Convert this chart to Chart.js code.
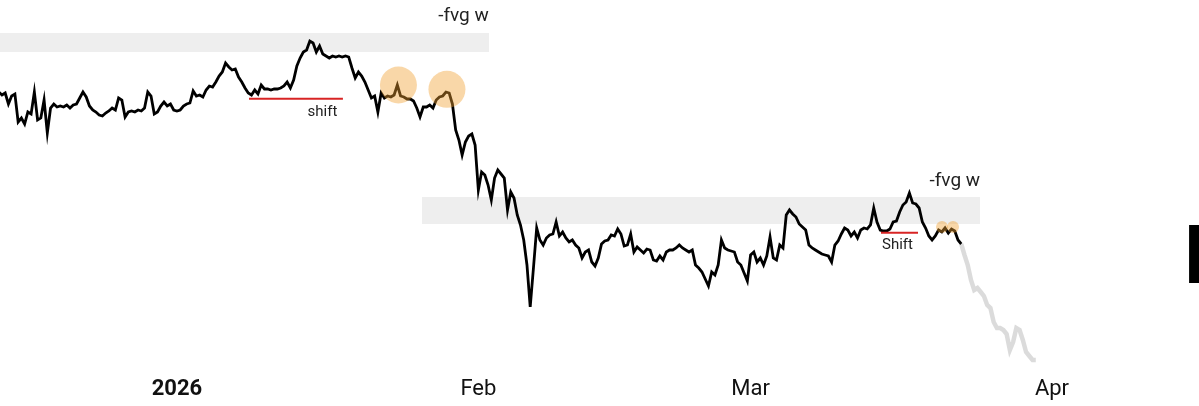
<!DOCTYPE html>
<html lang="en">
<head>
    <meta charset="UTF-8">
    <title>Price chart - fvg / shift</title>
    <script src="https://cdn.jsdelivr.net/npm/chart.js"></script>
    <style>
        body {
            margin: 0;
            background: #fff;
        }
        #wrap {
            width: 1199px;
            height: 406px;
        }
    </style>
</head>
<body>

    <div id="wrap"><canvas id="priceChart" width="1199" height="406"></canvas></div>

    <script>
        // x = days since 1 Jan 2026, one price every 8 hours (k USD)
        const STEP = 1 / 3;

        const tickDays = [0, 31, 59, 90];
        const tickLabels = ['2026', 'Feb', 'Mar', 'Apr'];

        const decStart = -18 - 1 / 3;
        const decPrices = [
            96.2, 95.75, 96.05, 94.4, 95.6, 95.9, 91.7, 92.3, 91.4, 93.2,
            92.9, 96.2, 92, 92.3, 95, 90.05, 93.8, 94.4, 93.95, 94.1,
            93.95, 94.25, 93.8, 94.25, 94.4, 95.3, 96.2, 95.45, 94.1, 93.5,
            93.2, 92.75, 92.6, 93.05, 93.35, 93.8, 93.5, 95.3, 95, 92.45,
            93.2, 93.35, 93.2, 93.5, 93.35, 93.8, 96.2, 95.6, 92.9, 93.2,
            94.1, 94.7, 94.1, 94.4, 93.5
        ];

        const janStart = 0;
        const janPrices = [
            93.35, 93.5, 94.1, 94.4, 94.55, 96.35, 95.6, 95.75, 95.45, 96.5,
            97.1, 96.95, 97.7, 98.6, 99.2, 100.55, 99.95, 99.5, 99.65, 98.45,
            97.7, 96.8, 96.05, 95.75, 96.5, 95.9, 97.25, 96.65, 96.65, 96.5,
            96.65, 96.65, 96.8, 97.1, 97.7, 96.8, 98, 100.1, 101.3, 102.2,
            102.5, 103.85, 103.55, 102.2, 103.1, 101.9, 101.6, 101.3, 101.6, 101.45,
            101.6, 101.45, 101.6, 101.45, 99.8, 98.3, 99.2, 98.6, 97.7, 96.5,
            95.3, 95.6, 93.2, 96.05, 95.3, 95.6, 95.45, 95.75, 97.25, 95.6,
            95.45, 95.15, 95.15, 94.85, 93.8, 92.45, 93.95, 93.95, 94.25, 93.8,
            95, 95.45, 95.6, 96.2, 96.05, 94.4, 90.5, 89, 86.75, 88.7,
            89.6, 89.9, 88.25
        ];

        const febStart = 31;
        const febPrices = [
            81.5, 84.2, 83.75, 82.25, 80, 83.3, 84.5, 83.9, 83.3, 78.5,
            81.2, 80.3, 77.75, 76.25, 74, 70.25, 63.95, 69.8, 75.8, 74,
            73.25, 74.3, 74.75, 74.9, 76.7, 74.6, 75.2, 74.3, 73.7, 74,
            73.25, 72.8, 71.3, 72.2, 72.5, 70.7, 70.1, 71.3, 73.4, 73.85,
            74, 74.75, 74.6, 75.65, 74.9, 73.1, 73.25, 74.9, 72.2, 72.95,
            72.5, 72.05, 72.65, 72.5, 71, 70.85, 71.6, 71, 72.2, 72.5,
            72.5, 72.8, 73.25, 72.8, 72.5, 72.2, 72.5, 70.25, 69.8, 69.2,
            68.15, 67.1, 69.2, 68.75, 70.25, 74, 72.8, 72.5, 72.35, 72.2,
            70.7, 70.25, 69.05, 67.85
        ];

        const marStart = 59;
        const marPrices = [
            71.75, 72.2, 70.7, 71.3, 70.25, 71.6, 74.45, 71.3, 71, 73.25,
            72.8, 77.75, 78.5, 77.9, 77.45, 76.4, 75.95, 75.5, 73.25, 72.8,
            72.5, 72.2, 71.9, 71.75, 71.6, 70.7, 73.25, 73.85, 74.9, 75.8,
            75.5, 74.6, 75.2, 74.3, 75.5, 75.8, 75.65, 76.25, 78.8, 76.7,
            75.5, 75.35, 75.35, 75.65, 76.7, 76.85, 78.2, 79.25, 79.7, 81.05,
            79.55, 79.4, 78.8, 76.7, 75.8, 74.6, 74, 74.6, 75.5, 75.2,
            75.8, 75.05, 75.65, 75.35, 74, 73.4
        ];

        // faded projection after the last bar
        const projStart = 80 + 2 / 3;
        const projPrices = [
            73.4, 71.75, 70.25, 68, 66.5, 66.8, 66.2, 65.6, 64.25, 63.8,
            61.7, 60.8, 60.8, 60.5, 59.9, 57.5, 58.7, 60.8, 60.5, 59,
            57.2, 56.6, 56, 56
        ];

        // grey fvg zones: [fromDay, toDay, low, high]
        const fvgZones = [
            [-18.2, 32.1, 102.2, 105.05],
            [25.2, 82.6, 76.4, 80.45]
        ];
        // red "shift" levels: [fromDay, toDay, price]
        const shiftLevels = [
            [7.41, 17.07, 95.2],
            [72.41, 76.22, 75.1]
        ];
        const bigCircles = [[22.78, 97.25], [27.77, 96.6]];
        const smallCircles = [[78.69, 75.95], [79.82, 75.95]];
        const noteTexts = ['-fvg w', '-fvg w', 'shift', 'Shift'];
        const noteDays = [29.47, 80.0, 14.97, 74.11];
        const notePrices = [107.5, 82.8, 93.2, 73.2];
        const sideBar = [104.1, 105.2, 67.55, 76.25];

        function toPoints(start, prices) {
            return prices.map((p, i) => ({ x: start + i * STEP, y: p }));
        }

        const mainLine = [].concat(
            toPoints(decStart, decPrices),
            toPoints(janStart, janPrices),
            toPoints(febStart, febPrices),
            toPoints(marStart, marPrices)
        );

        const overlay = {
            id: 'overlay',
            beforeDatasetsDraw(chart) {
                const c = chart.ctx, xs = chart.scales.x, ys = chart.scales.y;
                c.save();
                c.fillStyle = '#eeeeee';
                fvgZones.forEach(z => {
                    const x0 = xs.getPixelForValue(z[0]), x1 = xs.getPixelForValue(z[1]);
                    const y0 = ys.getPixelForValue(z[3]), y1 = ys.getPixelForValue(z[2]);
                    c.fillRect(x0, y0, x1 - x0, y1 - y0);
                });
                c.restore();
            },
            afterDatasetsDraw(chart) {
                const c = chart.ctx, xs = chart.scales.x, ys = chart.scales.y;
                c.save();
                c.fillStyle = '#222';
                c.textAlign = 'center';
                c.textBaseline = 'middle';
                noteTexts.forEach((t, i) => {
                    c.font = (t === '-fvg w' ? '19px' : '15px') + ' Roboto';
                    c.fillText(t, xs.getPixelForValue(noteDays[i]), ys.getPixelForValue(notePrices[i]));
                });
                c.fillStyle = '#000';
                const bx0 = xs.getPixelForValue(sideBar[0]), bx1 = xs.getPixelForValue(sideBar[1]);
                const by0 = ys.getPixelForValue(sideBar[3]), by1 = ys.getPixelForValue(sideBar[2]);
                c.fillRect(bx0, by0, bx1 - bx0, by1 - by0);
                c.restore();
            }
        };

        const circleColor = 'rgba(240, 160, 48, 0.42)';

        const ctx = document.getElementById('priceChart').getContext('2d');
        const priceChart = new Chart(ctx, {
            type: 'line',
            data: {
                datasets: [
                    {
                        data: mainLine,
                        borderColor: '#000',
                        borderWidth: 2.8,
                        pointRadius: 0,
                        tension: 0,
                        order: 3
                    },
                    {
                        data: toPoints(projStart, projPrices),
                        borderColor: 'rgba(0, 0, 0, 0.14)',
                        borderWidth: 4.5,
                        pointRadius: 0,
                        tension: 0,
                        order: 4
                    },
                    ...shiftLevels.map(s => ({
                        data: [{ x: s[0], y: s[2] }, { x: s[1], y: s[2] }],
                        borderColor: '#d82424',
                        borderWidth: 2,
                        pointRadius: 0,
                        order: 2
                    })),
                    {
                        type: 'scatter',
                        data: bigCircles.map(p => ({ x: p[0], y: p[1] })),
                        backgroundColor: circleColor,
                        borderWidth: 0,
                        pointRadius: 18.5,
                        order: 1
                    },
                    {
                        type: 'scatter',
                        data: smallCircles.map(p => ({ x: p[0], y: p[1] })),
                        backgroundColor: circleColor,
                        borderWidth: 0,
                        pointRadius: 6,
                        order: 1
                    }
                ]
            },
            options: {
                responsive: false,
                animation: false,
                layout: { padding: 0, autoPadding: false },
                plugins: {
                    legend: { display: false },
                    tooltip: { enabled: false }
                },
                scales: {
                    x: {
                        type: 'linear',
                        min: -18.2,
                        max: 105.12,
                        border: { display: false },
                        grid: { display: false, drawTicks: false },
                        afterFit: s => { s.height = 34; },
                        afterBuildTicks: s => { s.ticks = tickDays.map(v => ({ value: v })); },
                        ticks: {
                            autoSkip: false,
                            maxRotation: 0,
                            padding: 4,
                            color: '#111',
                            font: c => ({
                                family: 'Roboto',
                                size: 22,
                                weight: c.tick && c.tick.value === 0 ? 'bold' : 'normal'
                            }),
                            callback: v => tickLabels[tickDays.indexOf(v)]
                        }
                    },
                    y: {
                        display: false,
                        min: 54.2,
                        max: 110
                    }
                }
            },
            plugins: [overlay]
        });
    </script>

</body>
</html>
